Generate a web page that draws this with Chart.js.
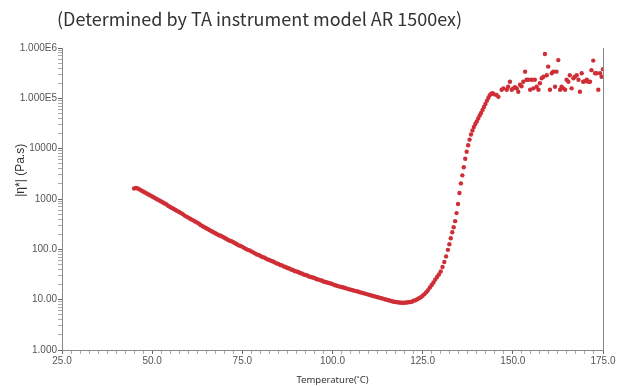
<!DOCTYPE html>
<html>
<head>
<meta charset="utf-8">
<script src="https://cdn.jsdelivr.net/npm/chart.js@4/dist/chart.umd.min.js"></script>
<style>
  html,body{margin:0;padding:0;background:#fff;}
  #wrap{position:relative;width:627px;height:386px;overflow:hidden;}
  #title{position:absolute;left:57px;top:5px;font-family:'Noto Sans CJK SC','Noto Sans',sans-serif;font-size:18px;color:#333;white-space:nowrap;line-height:26px;}
  canvas{position:absolute;left:0;top:0;}
</style>
</head>
<body>
<div id="wrap">
  <canvas id="c" width="627" height="386"></canvas>
  <div id="title">(Determined by TA instrument model AR 1500ex)</div>
</div>
<script>
// ---- data ----
const temperature = [
  45.0,45.5,46.0,46.5,47.0,47.5,48.0,48.5,49.0,49.5,
  50.0,50.5,51.0,51.5,52.0,52.5,53.0,53.5,54.0,54.5,
  55.0,55.5,56.0,56.5,57.0,57.5,58.0,58.5,59.0,59.5,
  60.0,60.5,61.0,61.5,62.0,62.5,63.0,63.5,64.0,64.5,
  65.0,65.5,66.0,66.5,67.0,67.5,68.0,68.5,69.0,69.5,
  70.0,70.5,71.0,71.5,72.0,72.5,73.0,73.5,74.0,74.5,
  75.0,75.5,76.0,76.5,77.0,77.5,78.0,78.5,79.0,79.5,
  80.0,80.5,81.0,81.5,82.0,82.5,83.0,83.5,84.0,84.5,
  85.0,85.5,86.0,86.5,87.0,87.5,88.0,88.5,89.0,89.5,
  90.0,90.5,91.0,91.5,92.0,92.5,93.0,93.5,94.0,94.5,
  95.0,95.5,96.0,96.5,97.0,97.5,98.0,98.5,99.0,99.5,
  100.0,100.5,101.0,101.5,102.0,102.5,103.0,103.5,104.0,104.5,
  105.0,105.5,106.0,106.5,107.0,107.5,108.0,108.5,109.0,109.5,
  110.0,110.5,111.0,111.5,112.0,112.5,113.0,113.5,114.0,114.5,
  115.0,115.5,116.0,116.5,117.0,117.5,118.0,118.5,119.0,119.5,
  120.0,120.5,121.0,121.5,122.0,122.5,123.0,123.5,124.0,124.5,
  125.0,125.5,126.0,126.5,127.0,127.5,128.0,
  128.5,129.0,129.5,130.0,130.5,131.0,131.5,132.0,132.4,132.8,
  133.2,133.6,134.0,134.4,134.8,135.2,135.6,136.0,136.4,136.8,
  137.2,137.6,138.0,138.4,138.8,139.2,139.6,140.0,140.4,140.8,
  141.2,141.6,142.0,142.4,142.8,143.2,143.6,144.0,144.4,144.8,
  145.5,146.0,146.9,147.4,148.3,148.7,149.2,149.7,150.1,150.6,
  151.1,151.5,152.0,152.4,152.9,153.4,153.8,154.3,154.8,155.2,
  155.7,156.1,156.6,157.1,157.5,158.0,158.5,158.9,159.4,159.8,
  160.3,160.8,161.2,161.7,162.1,162.6,163.1,163.5,164.0,164.5,
  164.9,165.4,165.8,166.3,166.8,167.2,167.7,168.2,168.6,169.1,
  169.5,170.0,170.5,170.9,171.4,171.8,172.3,172.8,173.2,173.7,
  174.2,174.6,175.0
];
const viscosity = [
  1620,1660,1620,1550,1480,1410,1350,1290,1230,1170,
  1120,1070,1020,977,933,891,851,813,776,724,
  692,661,631,603,575,550,525,501,468,447,
  427,407,389,372,355,339,324,302,288,275,
  263,251,240,229,219,209,200,191,186,178,
  170,162,155,148,145,138,132,126,120,117,
  112,107,102,97.7,95.5,91.2,87.1,83.2,79.4,77.6,
  74.1,70.8,69.2,66.1,63.1,61.7,58.9,57.5,55.0,52.5,
  51.3,49.0,47.9,45.7,44.7,42.7,41.7,39.8,38.9,37.2,
  36.3,35.5,33.9,33.1,31.6,30.9,30.2,28.8,28.2,27.5,
  26.9,25.7,25.1,24.5,24.0,22.9,22.4,21.9,21.4,20.9,
  20.4,19.5,19.1,18.6,18.2,17.8,17.4,17.0,16.6,16.2,
  15.8,15.5,15.1,14.8,14.5,14.1,13.8,13.5,13.2,12.9,
  12.6,12.3,12.0,11.7,11.5,11.2,11.0,10.7,10.5,10.2,
  10.0,9.77,9.55,9.33,9.12,9.00,8.91,8.80,8.71,8.71,
  8.71,8.80,8.91,9.00,9.12,9.55,9.77,10.2,10.7,11.2,
  12.0,12.9,14.1,15.5,17.4,19.5,21.9,
  25.1,28.2,31.6,36.3,44.7,56.2,72.4,97.7,126,166,
  219,275,363,525,794,1320,2040,2950,4270,6310,
  8710,11700,15100,19100,22900,26900,30900,34700,39800,45700,
  51300,58900,67600,77600,89100,102000,115000,123000,126000,120000,
  117000,107000,148000,158000,148000,170000,214000,148000,158000,166000,
  158000,135000,186000,174000,214000,339000,234000,234000,148000,234000,
  158000,234000,170000,148000,200000,251000,269000,759000,288000,427000,
  148000,316000,339000,170000,339000,575000,148000,170000,158000,148000,
  234000,214000,288000,158000,251000,269000,288000,234000,135000,316000,
  214000,219000,234000,214000,214000,363000,562000,316000,316000,148000,
  316000,269000,380000
];
const xTickValues = [25, 50, 75, 100, 125, 150, 175];
const xTickLabels = ['25.0', '50.0', '75.0', '100.0', '125.0', '150.0', '175.0'];
const yTickValues = [1, 10, 100, 1000, 10000, 100000, 1000000];
const yTickLabels = ['1.000', '10.00', '100.0', '1000', '10000', '1.000E5', '1.000E6'];
const xAxisTitle = 'Temperature(˚C)';
const yAxisTitle = '|η*| (Pa.s)';

// ---- chart ----
const points = temperature.map((t, i) => ({ x: t, y: viscosity[i] }));

const tickFont = { family: "'Liberation Sans Narrow','Liberation Sans',Arial,sans-serif", size: 10 };
const tickColor = '#555';
const axisColor = '#8a8a8a';

function yTicks(scale) {
  const ticks = [];
  for (let d = 0; d < yTickValues.length; d++) {
    const base = yTickValues[d];
    ticks.push({ value: base, major: true });
    if (d < yTickValues.length - 1) {
      for (let m = 2; m <= 9; m++) ticks.push({ value: base * m, major: false });
    }
  }
  scale.ticks = ticks;
}
function xTicks(scale) {
  const ticks = [];
  for (let i = 0; i < xTickValues.length; i++) {
    ticks.push({ value: xTickValues[i], major: true });
    if (i < xTickValues.length - 1) {
      const step = (xTickValues[i + 1] - xTickValues[i]) / 10;
      for (let k = 1; k < 10; k++) ticks.push({ value: xTickValues[i] + k * step, major: false });
    }
  }
  scale.ticks = ticks;
}

// y-axis title drawn on the canvas, placed a bit above the axis middle as in the reference
const yTitlePlugin = {
  id: 'yTitle',
  afterDraw(chart) {
    const { ctx, chartArea } = chart;
    const cy = chartArea.top + (chartArea.bottom - chartArea.top) * 0.405;
    ctx.save();
    ctx.translate(21, cy);
    ctx.rotate(-Math.PI / 2);
    ctx.font = "12px 'Liberation Sans', Arial, sans-serif";
    ctx.fillStyle = '#333';
    ctx.textAlign = 'center';
    ctx.textBaseline = 'middle';
    ctx.fillText(yAxisTitle, 0, 0);
    ctx.restore();
  }
};

new Chart(document.getElementById('c'), {
  type: 'scatter',
  data: {
    datasets: [{
      data: points,
      pointRadius: 2.2,
      pointHoverRadius: 2.2,
      pointBorderWidth: 0,
      pointBackgroundColor: '#cf2e36',
      borderColor: '#cf2e36',
      showLine: false
    }]
  },
  plugins: [yTitlePlugin],
  options: {
    responsive: false,
    animation: false,
    events: [],
    layout: { padding: { top: 48, right: 24, left: 0, bottom: 0 } },
    plugins: { legend: { display: false }, tooltip: { enabled: false }, title: { display: false } },
    scales: {
      x: {
        type: 'linear',
        min: 25, max: 175,
        afterBuildTicks: xTicks,
        afterFit: (s) => { s.height = 36; },
        border: { display: true, color: axisColor, width: 1 },
        grid: {
          drawOnChartArea: false, drawTicks: true, tickLength: 4,
          tickColor: (ctx) => (ctx.tick && xTickValues.includes(ctx.tick.value)) ? '#666' : '#aaa'
        },
        ticks: {
          autoSkip: false, maxRotation: 0, padding: 1,
          font: tickFont, color: tickColor,
          callback: (v) => { const i = xTickValues.indexOf(v); return i >= 0 ? xTickLabels[i] : ''; }
        },
        title: {
          display: true, text: xAxisTitle, color: '#333',
          font: { family: "'Noto Sans','Open Sans',sans-serif", size: 9.5 },
          padding: { top: 0, bottom: 0 }
        }
      },
      y: {
        type: 'logarithmic',
        min: 1, max: 1000000,
        afterBuildTicks: yTicks,
        afterFit: (s) => { s.width = 62; },
        border: { display: true, color: axisColor, width: 1 },
        grid: {
          drawOnChartArea: false, drawTicks: true, tickLength: 4,
          tickColor: (ctx) => (ctx.tick && yTickValues.includes(ctx.tick.value)) ? '#666' : '#aaa'
        },
        ticks: {
          autoSkip: false, padding: 1,
          font: tickFont, color: tickColor,
          callback: (v) => { const i = yTickValues.indexOf(v); return i >= 0 ? yTickLabels[i] : ''; }
        },
        title: { display: false }
      },
      yRight: {
        type: 'logarithmic', position: 'right',
        min: 1, max: 1000000,
        afterFit: (s) => { s.width = 0; },
        border: { display: true, color: axisColor, width: 1 },
        grid: { display: false, drawOnChartArea: false, drawTicks: false },
        ticks: { display: false }
      }
    }
  }
});
</script>
</body>
</html>
